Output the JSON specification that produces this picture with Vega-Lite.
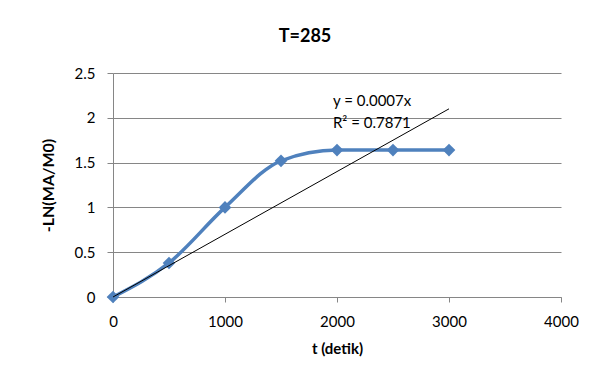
{
  "$schema": "https://vega.github.io/schema/vega-lite/v6.json",
  "width": 448,
  "height": 224,
  "autosize": "none",
  "padding": {"left": 113, "top": 73, "right": 42, "bottom": 81},
  "background": "white",
  "config": {
    "font": "Lato",
    "view": {"stroke": null},
    "axis": {"labelFont": "Lato", "titleFont": "Lato", "labelColor": "black", "titleColor": "black", "labelFlush": false}
  },
  "title": {"text": "T=285", "fontSize": 18, "font": "Lato", "fontWeight": "bold", "anchor": "middle", "dx": -32, "offset": 20, "color": "black"},
  "datasets": {
    "obs": [
      {"t": 0, "v": 0},
      {"t": 500, "v": 0.38},
      {"t": 1000, "v": 1.0},
      {"t": 1500, "v": 1.52},
      {"t": 2000, "v": 1.64},
      {"t": 2500, "v": 1.64},
      {"t": 3000, "v": 1.64}
    ],
    "trend": [
      {"t": 0, "v": 0},
      {"t": 3000, "v": 2.1}
    ],
    "labels": [
      {"t": 1964, "v": 2.19, "txt": "y = 0.0007x"},
      {"t": 1964, "v": 1.94, "txt": "R² = 0.7871"}
    ]
  },
  "layer": [
    {
      "data": {"name": "obs"},
      "mark": {"type": "line", "interpolate": "monotone", "color": "#4F81BD", "strokeWidth": 3.5},
      "encoding": {
        "x": {"field": "t", "type": "quantitative", "scale": {"domain": [0, 4000], "nice": false},
          "axis": {"title": "t (detik)", "values": [0, 1000, 2000, 3000, 4000], "format": "d", "grid": false, "domainColor": "#868686", "tickColor": "#868686", "tickSize": 5, "labelPadding": 12, "labelFontSize": 15, "titleFontSize": 15, "titleFontWeight": "bold", "titlePadding": 12}},
        "y": {"field": "v", "type": "quantitative", "scale": {"domain": [0, 2.5], "nice": false},
          "axis": {"title": "-LN(MA/M0)", "values": [0, 0.5, 1, 1.5, 2, 2.5], "format": "~g", "grid": true, "gridColor": "#868686", "domainColor": "#868686", "tickColor": "#868686", "tickSize": 6, "labelPadding": 12, "labelFontSize": 15, "titleFontSize": 16, "titleFontWeight": "bold", "titlePadding": 18}}
      }
    },
    {
      "data": {"name": "obs"},
      "mark": {"type": "point", "shape": "diamond", "filled": true, "color": "#4F81BD", "size": 160, "opacity": 1},
      "encoding": {
        "x": {"field": "t", "type": "quantitative"},
        "y": {"field": "v", "type": "quantitative"}
      }
    },
    {
      "data": {"name": "trend"},
      "mark": {"type": "line", "color": "black", "strokeWidth": 1},
      "encoding": {
        "x": {"field": "t", "type": "quantitative"},
        "y": {"field": "v", "type": "quantitative"}
      }
    },
    {
      "data": {"name": "labels"},
      "mark": {"type": "text", "align": "left", "baseline": "middle", "fontSize": 15, "font": "Lato", "color": "black"},
      "encoding": {
        "x": {"field": "t", "type": "quantitative"},
        "y": {"field": "v", "type": "quantitative"},
        "text": {"field": "txt"}
      }
    }
  ]
}
